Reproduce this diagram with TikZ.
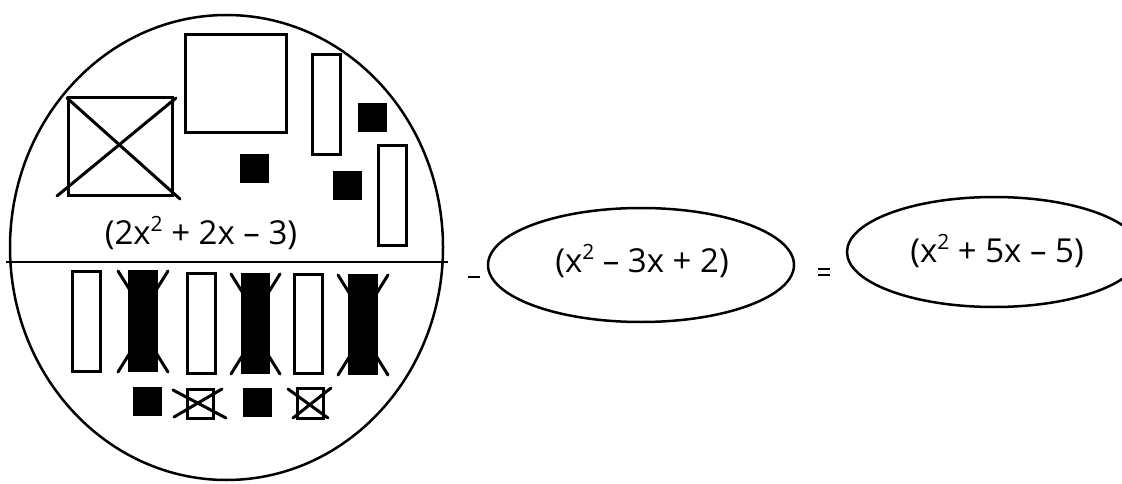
\documentclass[tikz,border=0pt]{standalone}
\usepackage{fontspec}
\setmainfont{Open Sans}
\newcommand{\sqd}{\raisebox{0.42em}{\fontsize{21}{23}\selectfont 2}}
\begin{document}
\begin{tikzpicture}[x=1pt,y=-1pt,
  tile/.style={draw=black,line width=3pt,fill=white},
  unit/.style={fill=black},
  xline/.style={line width=3pt,line cap=round},
  oval/.style={draw=black,line width=2.5pt},
  expr/.style={inner sep=0pt,font=\fontsize{33}{36}\selectfont}]
\useasboundingbox[fill=white] (0,0) rectangle (1122,484);
% big oval and divider
\draw[oval] (226.5,247.5) ellipse [x radius=216.5, y radius=232.5];
\draw[line width=2.5pt] (6,262) -- (448,262);
% top half
\draw[tile] (68,98) rectangle (172,195);
\draw[xline] (67,98) -- (180,199);
\draw[xline] (57,196) -- (176,98);
\draw[tile] (185,35) rectangle (286,133);
\draw[tile] (312,55) rectangle (340,155);
\draw[tile] (378,146) rectangle (406,245);
\fill[unit] (358,103) rectangle (387,132);
\fill[unit] (240,154) rectangle (269,183);
\fill[unit] (333,171) rectangle (362,200);
\node[expr] (e1) at (201,233) {(2x\sqd\ + 2x – 3)};
% bottom half: x strips
\draw[tile] (72,271) rectangle (100,371);
\draw[tile] (187,273) rectangle (215,373);
\draw[tile] (294,274) rectangle (322,373);
\foreach \a/\b/\t/\u in {128/158/270/372, 241/270/273/374, 348/378/274/375}{
  \fill[unit] (\a,\t) rectangle (\b,\u);
  \draw[xline] (\a-10,\t+1) -- (\a+5,\t+25);
  \draw[xline] (\b+10,\t+1) -- (\b-5,\t+25);
  \draw[xline] (\a-10,\u) -- (\a+5,\u-24);
  \draw[xline] (\b+10,\u) -- (\b-5,\u-24);
}
% bottom half: units
\fill[unit] (133,387) rectangle (162,416);
\fill[unit] (243,388) rectangle (272,417);
\draw[tile] (187,389) rectangle (213,418);
\draw[xline] (173,390) -- (226,418);
\draw[xline] (174,417) -- (222,389);
\draw[tile] (297,388) rectangle (323,418);
\draw[xline] (288,389) -- (328,418);
\draw[xline] (293,418) -- (331,388);
% operators
\draw[line width=2.2pt] (468,277) -- (480,277);
\draw[line width=2.2pt] (818,269) -- (830,269);
\draw[line width=2.2pt] (818,275) -- (830,275);
% second and third ovals
\draw[oval] (641,265) ellipse [x radius=153, y radius=57];
\node[expr] (e2) at (642,261) {(x\sqd\ – 3x + 2)};
\draw[oval] (994,252) ellipse [x radius=147, y radius=55];
\node[expr] (e3) at (997,251) {(x\sqd\ + 5x – 5)};
\end{tikzpicture}
\end{document}
